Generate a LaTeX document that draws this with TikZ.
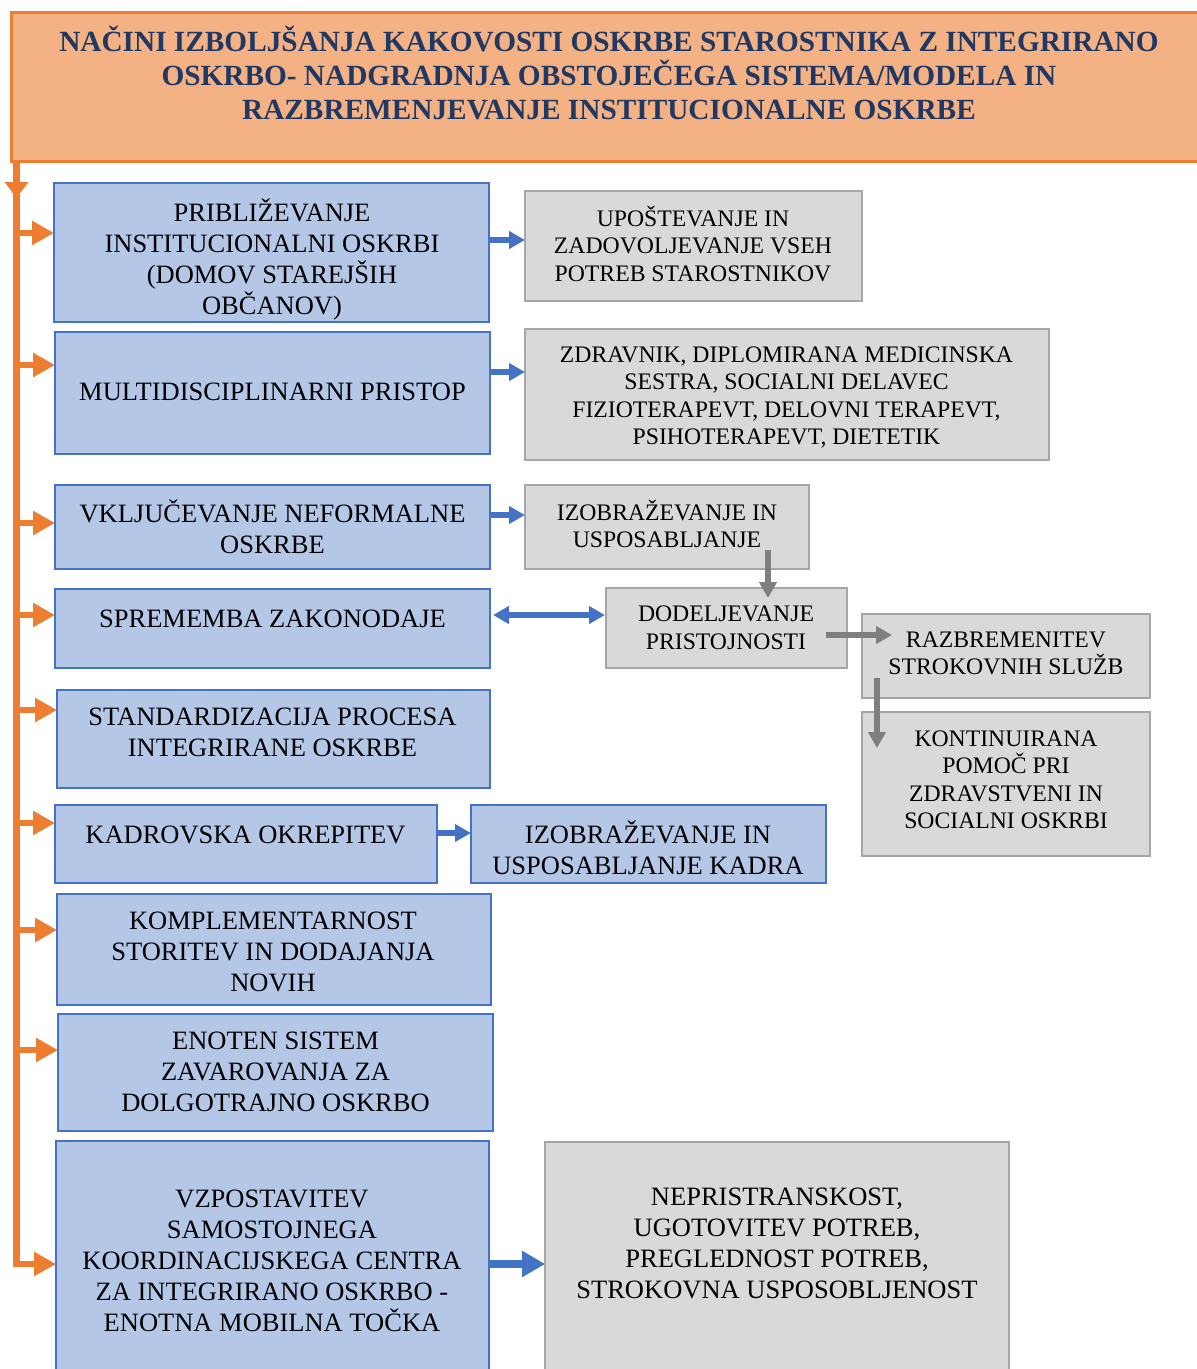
\documentclass[tikz,border=0pt]{standalone}
\usepackage{fontspec}
\setmainfont{Liberation Serif}
\usetikzlibrary{arrows.meta}

\definecolor{orangeline}{HTML}{ED7D31}
\definecolor{titlefill}{HTML}{F4B183}
\definecolor{titletext}{HTML}{1F3864}
\definecolor{blueline}{HTML}{4472C4}
\definecolor{bluefill}{HTML}{B4C7E7}
\definecolor{grayfill}{HTML}{D9D9D9}
\definecolor{grayline}{HTML}{A6A6A6}
\definecolor{grayarrow}{HTML}{7F7F7F}

% box from its left, top, right and bottom edges (picture units)
\newcommand\placebox[6]{%
  \node[#2, minimum width={(#5)-(#3)}, minimum height={(#6)-(#4)}]
    (#1) at ({((#3)+(#5))/2},{((#4)+(#6))/2}) {};}

\tikzset{
  boxbase/.style={rectangle, inner sep=0pt, outer sep=0pt},
  titlebox/.style={boxbase, draw=orangeline, fill=titlefill, line width=3pt},
  bluebox/.style={boxbase, draw=blueline, fill=bluefill, line width=2.6pt},
  graybox/.style={boxbase, draw=grayline, fill=grayfill, line width=2.6pt},
  txt/.style={align=center, inner sep=0pt, text=black,
    execute at begin node=\vphantom{Č(}, execute at end node=\vphantom{(}},
  bigtxt/.style={txt, yshift=-3pt, font=\fontsize{26.5}{31}\selectfont},
  smalltxt/.style={txt, yshift=-2.5pt, font=\fontsize{23.7}{27.5}\selectfont},
  titletxt/.style={txt, yshift=-1.5pt, text=titletext, font=\bfseries\fontsize{29.3}{34}\selectfont},
  oarr/.style={draw=orangeline, line width=6.5pt, line join=miter,
    -{Triangle[length=22pt,width=23pt]}},
  barr/.style={draw=blueline, line width=6pt, -{Triangle[length=16pt,width=17pt]}},
  bbarr/.style={draw=blueline, line width=6pt,
    {Triangle[length=16pt,width=17pt]}-{Triangle[length=16pt,width=17pt]}},
  bigbarr/.style={draw=blueline, line width=7.5pt, -{Triangle[length=23pt,width=25pt]}},
  garr/.style={draw=grayarrow, line width=6pt, -{Triangle[length=16pt,width=17pt]}},
}

\begin{document}
\begin{tikzpicture}[x=1pt, y=-1pt]
\clip (0,0) rectangle (1197,1369);
\fill[white] (0,0) rectangle (1197,1369);

% heading
\placebox{title}{titlebox}{11}{12}{1220}{161}
\node[titletxt] (titlet) at (609,74)
  {NAČINI IZBOLJŠANJA KAKOVOSTI OSKRBE STAROSTNIKA Z INTEGRIRANO\\
   OSKRBO- NADGRADNJA OBSTOJEČEGA SISTEMA/MODELA IN\\
   RAZBREMENJEVANJE INSTITUCIONALNE OSKRBE};

% main measures (blue)
\placebox{b1}{bluebox}{54}{183}{489}{322}
\placebox{b2}{bluebox}{55}{332}{490}{454}
\placebox{b3}{bluebox}{55}{485}{490}{569}
\placebox{b4}{bluebox}{55}{589}{490}{668}
\placebox{b5}{bluebox}{57}{690}{490}{788}
\placebox{b6}{bluebox}{55}{805}{437}{883}
\placebox{b7}{bluebox}{57}{894}{491}{1005}
\placebox{b8}{bluebox}{58}{1014}{493}{1131}
\placebox{b9}{bluebox}{56}{1141}{489}{1390}
\placebox{k}{bluebox}{471}{805}{826}{883}

\node[bigtxt] (b1t) at (272,256) {PRIBLIŽEVANJE\\INSTITUCIONALNI OSKRBI\\(DOMOV STAREJŠIH\\OBČANOV)};
\node[bigtxt] (b2t) at (272.5,389) {MULTIDISCIPLINARNI PRISTOP};
\node[bigtxt] (b3t) at (272.5,526.5) {VKLJUČEVANJE NEFORMALNE\\OSKRBE};
\node[bigtxt] (b4t) at (272.5,616) {SPREMEMBA ZAKONODAJE};
\node[bigtxt] (b5t) at (272.5,732.5) {STANDARDIZACIJA PROCESA\\INTEGRIRANE OSKRBE};
\node[bigtxt] (b6t) at (245.5,832) {KADROVSKA OKREPITEV};
\node[bigtxt] (b7t) at (273,951.5) {KOMPLEMENTARNOST\\STORITEV IN DODAJANJA\\NOVIH};
\node[bigtxt] (b8t) at (275.5,1072) {ENOTEN SISTEM\\ZAVAROVANJA ZA\\DOLGOTRAJNO OSKRBO};
\node[bigtxt] (b9t) at (272,1260.5) {VZPOSTAVITEV\\SAMOSTOJNEGA\\KOORDINACIJSKEGA CENTRA\\ZA INTEGRIRANO OSKRBO -\\ENOTNA MOBILNA TOČKA};
\node[bigtxt] (kt) at (648,847.5) {IZOBRAŽEVANJE IN\\USPOSABLJANJE KADRA};

% details (gray)
\placebox{g1}{graybox}{525}{191}{862}{301}
\placebox{g2}{graybox}{525}{329}{1049}{460}
\placebox{g3}{graybox}{525}{485}{809}{569}
\placebox{g4}{graybox}{606}{588}{847}{668}
\placebox{g5}{graybox}{862}{614}{1150}{698}
\placebox{g6}{graybox}{862}{712}{1150}{856}
\placebox{g7}{graybox}{545}{1142}{1009}{1390}

\node[smalltxt] (g1t) at (693,243.5) {UPOŠTEVANJE IN\\ZADOVOLJEVANJE VSEH\\POTREB STAROSTNIKOV};
\node[smalltxt] (g2t) at (786.5,395.5) {ZDRAVNIK, DIPLOMIRANA MEDICINSKA\\SESTRA, SOCIALNI DELAVEC\\FIZIOTERAPEVT, DELOVNI TERAPEVT,\\PSIHOTERAPEVT, DIETETIK};
\node[smalltxt] (g3t) at (667,524) {IZOBRAŽEVANJE IN\\USPOSABLJANJE};
\node[smalltxt] (g4t) at (726,627.5) {DODELJEVANJE\\PRISTOJNOSTI};
\node[smalltxt] (g5t) at (1006,653) {RAZBREMENITEV\\STROKOVNIH SLUŽB};
\node[smalltxt] (g6t) at (1006,779.5) {KONTINUIRANA\\POMOČ PRI\\ZDRAVSTVENI IN\\SOCIALNI OSKRBI};
\node[bigtxt] (g7t) at (777,1243) {NEPRISTRANSKOST,\\UGOTOVITEV POTREB,\\PREGLEDNOST POTREB,\\STROKOVNA USPOSOBLJENOST};

% orange spine with its branches
\coordinate (sp0) at (16.5,161);
\coordinate (spd) at (16.5,198);
\coordinate (o1) at (16.5,233);
\coordinate (o2) at (16.5,365);
\coordinate (o3) at (16.5,523);
\coordinate (o4) at (16.5,615);
\coordinate (o5) at (16.5,710);
\coordinate (o6) at (16.5,823);
\coordinate (o7) at (16.5,930);
\coordinate (o8) at (16.5,1050);
\coordinate (o9) at (16.5,1264);

\draw[oarr] (sp0) -- (o9) -- (o9 -| b9.west);
\draw[draw=orangeline, line width=6.5pt, -{Triangle[length=16pt,width=23pt]}] (sp0) -- (spd);
\foreach \i in {1,...,8} {
  \draw[oarr] (o\i) -- (o\i -| b\i.west);
}

% blue connectors
\coordinate (a1) at (0,240);
\coordinate (a2) at (0,372);
\coordinate (a3) at (0,515);
\coordinate (a4) at (0,615);
\coordinate (a6) at (0,833);
\coordinate (a9) at (0,1264);
\draw[barr] (b1.east |- a1) -- (g1.west |- a1);
\draw[barr] (b2.east |- a2) -- (g2.west |- a2);
\draw[barr] (b3.east |- a3) -- (g3.west |- a3);
\draw[bbarr] ([xshift=3pt]b4.east |- a4) -- ([xshift=-1pt]g4.west |- a4);
\draw[barr] (b6.east |- a6) -- (k.west |- a6);
\draw[bigbarr] (b9.east |- a9) -- (g7.west |- a9);

% gray connectors
\coordinate (v1) at (768,0);
\coordinate (v2) at (0,635);
\coordinate (v3) at (877,0);
\draw[garr] ([yshift=19pt]g3.south -| v1) -- ([yshift=-10pt]g4.north -| v1);
\draw[garr] ([xshift=-21pt]g4.east |- v2) -- ([xshift=30pt]g5.west |- v2);
\draw[garr] ([yshift=20pt]g5.south -| v3) -- ([yshift=-36pt]g6.north -| v3);
\end{tikzpicture}
\end{document}
